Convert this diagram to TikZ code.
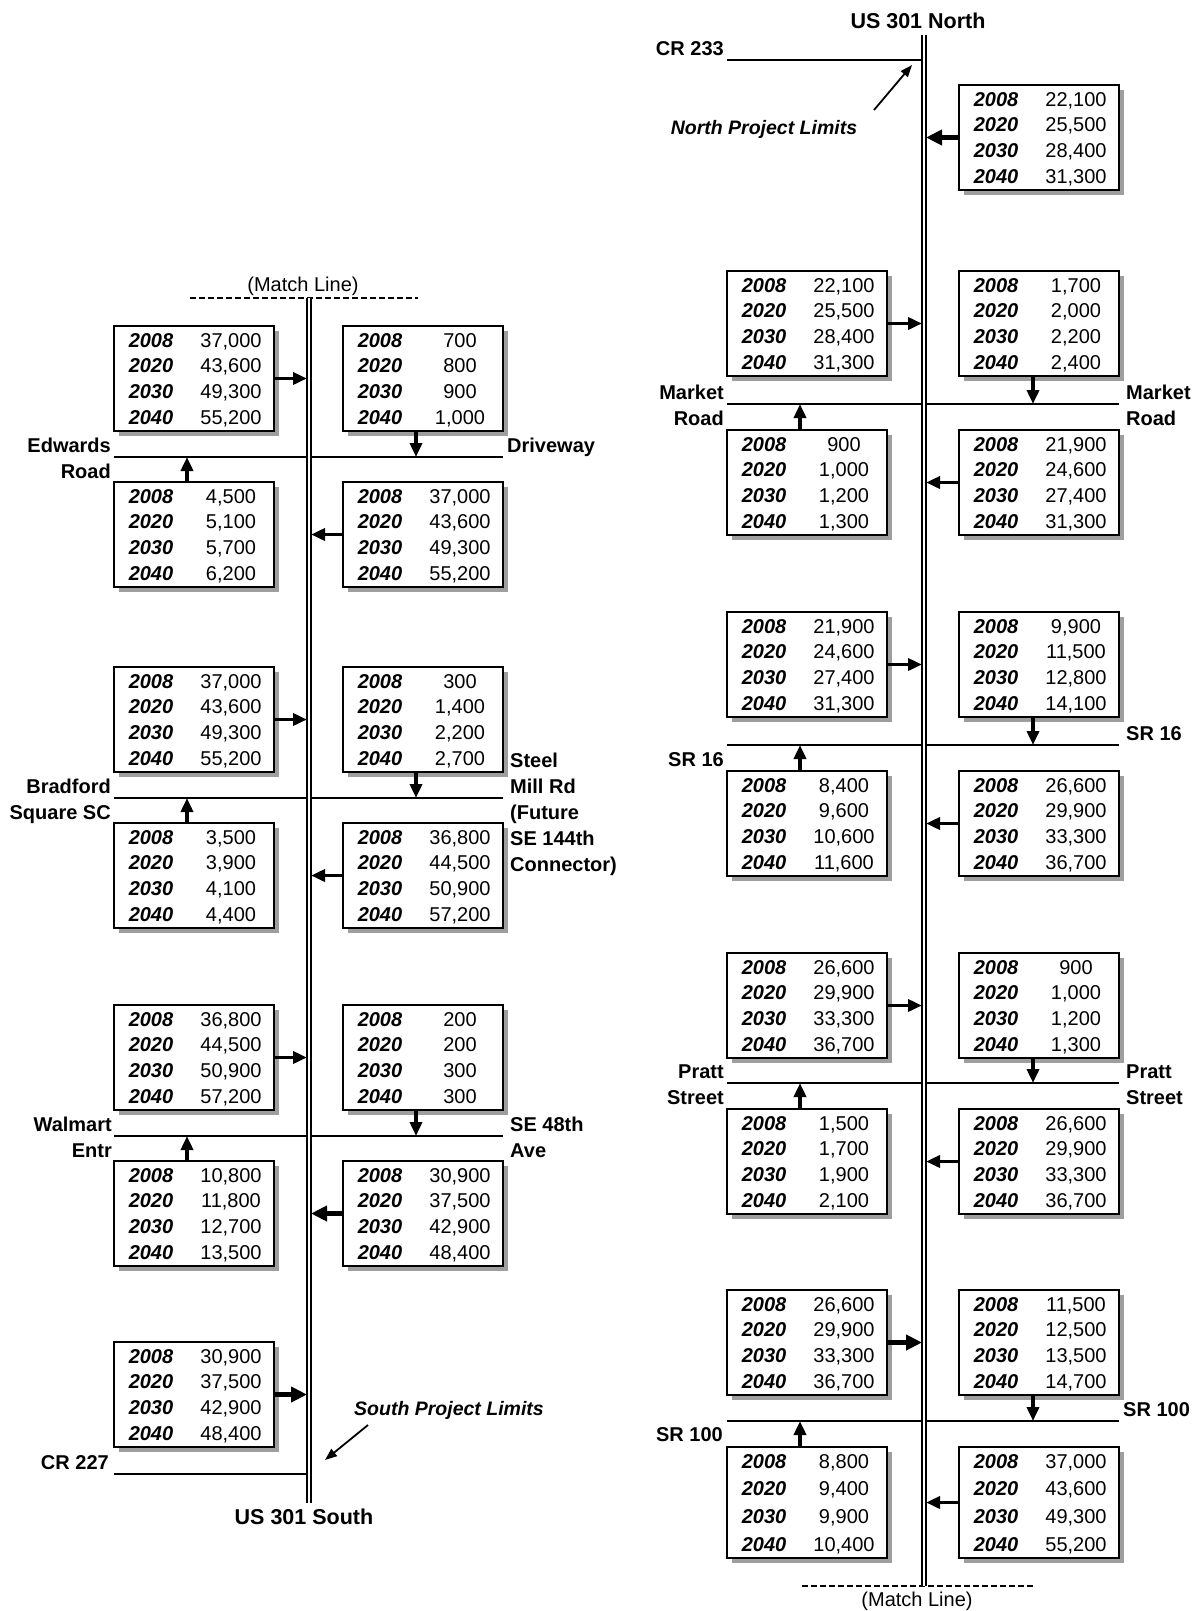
\documentclass[tikz,border=0pt]{standalone}
\usepackage{fontspec}
\setmainfont{Liberation Sans}
\usetikzlibrary{arrows.meta}
\tikzset{
  databox/.style={draw=black, line width=1.6pt, fill=white, minimum width=160pt, inner sep=0pt, rectangle},
  boxshadow/.style={fill=black!38},
  yeartext/.style={font=\fontsize{20}{24}\selectfont\bfseries\itshape, inner sep=0pt, text height=14.3pt, text depth=0pt},
  numtext/.style={font=\fontsize{20}{24}\selectfont, inner sep=0pt, text height=14.3pt, text depth=0pt},
  roadlbl/.style={font=\fontsize{20}{24}\selectfont\bfseries, inner sep=0pt, text height=14.3pt, text depth=0pt},
  titlelbl/.style={font=\fontsize{21.5}{26}\selectfont\bfseries, inner sep=0pt, text height=15.4pt, text depth=0pt},
  limitlbl/.style={font=\fontsize{19.5}{24}\selectfont\bfseries\itshape, inner sep=0pt, text height=14pt, text depth=0pt},
  matchlbl/.style={font=\fontsize{20}{24}\selectfont, inner sep=0pt, anchor=base},
  mainroad/.style={draw=black, double=white, double distance=2.6pt, line width=1.5pt},
  crossroad/.style={line width=2.2pt},
  matchline/.style={line width=2pt, dash pattern=on 6pt off 3pt},
  flow/.style={line width=3.5pt, -{Triangle[length=14pt,width=12pt]}},
  bigflow/.style={line width=5.5pt, -{Triangle[length=16pt,width=15pt]}},
  limitarrow/.style={line width=1.8pt, -{Triangle[length=12pt,width=9pt]}},
}
% #1 name, #2 left x, #3 top y, #4 height, #5-#8 values
\newcommand\tbox[8]{%
  \fill[boxshadow] ({#2+5},{#3+5}) rectangle ({#2+165},{#3+#4+5});
  \node[databox, minimum height=#4pt] (#1) at ({#2+80},{#3+#4/2}) {};
  \node[yeartext] (#1-y1) at ({#2+37},{#3+14}) {2008};
  \node[numtext]  (#1-n1) at ({#2+117},{#3+14}) {#5};
  \node[yeartext] (#1-y2) at ({#2+37},{#3+14+(#4-28)/3}) {2020};
  \node[numtext]  (#1-n2) at ({#2+117},{#3+14+(#4-28)/3}) {#6};
  \node[yeartext] (#1-y3) at ({#2+37},{#3+14+2*(#4-28)/3}) {2030};
  \node[numtext]  (#1-n3) at ({#2+117},{#3+14+2*(#4-28)/3}) {#7};
  \node[yeartext] (#1-y4) at ({#2+37},{#3+#4-14}) {2040};
  \node[numtext]  (#1-n4) at ({#2+117},{#3+#4-14}) {#8};
}
\begin{document}
\begin{tikzpicture}[x=1pt,y=-1pt]
\useasboundingbox (0,0) rectangle (1198,1611);

% ================= LEFT COLUMN (south half) =================
\coordinate (LW) at (307,0);
\coordinate (LE) at (311,0);
\coordinate (LroadTop) at (309,298);
\coordinate (LroadBot) at (309,1503);
\coordinate (mlA) at (190,298);
\coordinate (mlB) at (418,298);
\draw[matchline] (mlA) -- (mlB);
\node[matchlbl] (matchTop) at (303,291) {(Match Line)};

% cross roads
\coordinate (aRw) at (114,457); \coordinate (aRe) at (503,457);
\coordinate (bRw) at (114,798); \coordinate (bRe) at (503,798);
\coordinate (cRw) at (114,1136); \coordinate (cRe) at (503,1136);
\coordinate (crW) at (114,1474);
\draw[crossroad] (aRw) -- (aRe);
\draw[crossroad] (bRw) -- (bRe);
\draw[crossroad] (cRw) -- (cRe);
\draw[crossroad] (crW) -- (crW -| LW);
\draw[mainroad] (LroadTop) -- (LroadBot);

% group A
\tbox{aUL}{114}{326}{105}{37,000}{43,600}{49,300}{55,200}
\tbox{aUR}{343}{326}{105}{700}{800}{900}{1,000}
\tbox{aLL}{114}{482}{105}{4,500}{5,100}{5,700}{6,200}
\tbox{aLR}{343}{482}{105}{37,000}{43,600}{49,300}{55,200}
\coordinate (aUp) at (187,457); \coordinate (aDn) at (416,457);
\draw[flow] (aUL.east) -- (aUL.east -| LW);
\draw[flow] (aLR.west) -- (aLR.west -| LE);
\draw[flow] (aLL.north -| aUp) -- (aUp);
\draw[flow] (aUR.south -| aDn) -- (aDn);
\node[roadlbl, anchor=east] (lEd1) at (111,445) {Edwards};
\node[roadlbl, anchor=east] (lEd2) at (111,471) {Road};
\node[roadlbl, anchor=west] (lDr) at (507,445) {Driveway};

% group B
\tbox{bUL}{114}{667}{105}{37,000}{43,600}{49,300}{55,200}
\tbox{bUR}{343}{667}{105}{300}{1,400}{2,200}{2,700}
\tbox{bLL}{114}{823}{105}{3,500}{3,900}{4,100}{4,400}
\tbox{bLR}{343}{823}{105}{36,800}{44,500}{50,900}{57,200}
\coordinate (bUp) at (187,798); \coordinate (bDn) at (416,798);
\draw[flow] (bUL.east) -- (bUL.east -| LW);
\draw[flow] (bLR.west) -- (bLR.west -| LE);
\draw[flow] (bLL.north -| bUp) -- (bUp);
\draw[flow] (bUR.south -| bDn) -- (bDn);
\node[roadlbl, anchor=east] (lBr1) at (111,786) {Bradford};
\node[roadlbl, anchor=east] (lBr2) at (111,812) {Square SC};
\node[roadlbl, anchor=west] (lSt1) at (510,760) {Steel};
\node[roadlbl, anchor=west] (lSt2) at (510,786) {Mill Rd};
\node[roadlbl, anchor=west] (lSt3) at (510,812) {(Future};
\node[roadlbl, anchor=west] (lSt4) at (510,838) {SE 144th};
\node[roadlbl, anchor=west] (lSt5) at (510,864) {Connector)};

% group C
\tbox{cUL}{114}{1005}{105}{36,800}{44,500}{50,900}{57,200}
\tbox{cUR}{343}{1005}{105}{200}{200}{300}{300}
\tbox{cLL}{114}{1161}{105}{10,800}{11,800}{12,700}{13,500}
\tbox{cLR}{343}{1161}{105}{30,900}{37,500}{42,900}{48,400}
\coordinate (cUp) at (187,1136); \coordinate (cDn) at (416,1136);
\draw[flow] (cUL.east) -- (cUL.east -| LW);
\draw[bigflow] (cLR.west) -- (cLR.west -| LE);
\draw[flow] (cLL.north -| cUp) -- (cUp);
\draw[flow] (cUR.south -| cDn) -- (cDn);
\node[roadlbl, anchor=east] (lWa1) at (112,1124) {Walmart};
\node[roadlbl, anchor=east] (lWa2) at (112,1150) {Entr};
\node[roadlbl, anchor=west] (lSe1) at (510,1124) {SE 48th};
\node[roadlbl, anchor=west] (lSe2) at (510,1150) {Ave};

% group D
\tbox{dUL}{114}{1342}{105}{30,900}{37,500}{42,900}{48,400}
\draw[bigflow] (dUL.east) -- (dUL.east -| LW);
\node[roadlbl, anchor=east] (lCR227) at (109,1462) {CR 227};
\node[limitlbl] (spl) at (449,1408) {South Project Limits};
\coordinate (splS) at (368,1425); \coordinate (splE) at (325,1460);
\draw[limitarrow] (splS) -- (splE);
\node[titlelbl] (us301s) at (304,1517) {US 301 South};

% ================= RIGHT COLUMN (north half) =================
\coordinate (RW) at (922,0);
\coordinate (RE) at (926,0);
\coordinate (RroadTop) at (924,35);
\coordinate (RroadBot) at (924,1586);
\node[titlelbl] (us301n) at (918,21) {US 301 North};

\coordinate (cr233W) at (727,60);
\coordinate (mRw) at (727,404);  \coordinate (mRe) at (1119,404);
\coordinate (sRw) at (727,745);  \coordinate (sRe) at (1119,745);
\coordinate (pRw) at (727,1083); \coordinate (pRe) at (1119,1083);
\coordinate (qRw) at (727,1421); \coordinate (qRe) at (1119,1421);
\draw[crossroad] (cr233W) -- (cr233W -| RW);
\draw[crossroad] (mRw) -- (mRe);
\draw[crossroad] (sRw) -- (sRe);
\draw[crossroad] (pRw) -- (pRe);
\draw[crossroad] (qRw) -- (qRe);
\coordinate (mlC) at (802,1586);
\coordinate (mlD) at (1033,1586);
\draw[matchline] (mlC) -- (mlD);
\draw[mainroad] (RroadTop) -- (RroadBot);
\node[matchlbl] (matchBot) at (917,1606) {(Match Line)};

\node[roadlbl, anchor=east] (lCR233) at (724,48) {CR 233};
\node[limitlbl] (npl) at (764,127) {North Project Limits};
\coordinate (nplS) at (874,110); \coordinate (nplE) at (912,65);
\draw[limitarrow] (nplS) -- (nplE);

% top box
\tbox{tUR}{959}{85}{105}{22,100}{25,500}{28,400}{31,300}
\draw[bigflow] (tUR.west) -- (tUR.west -| RE);

% Market Road
\tbox{mUL}{727}{271}{105}{22,100}{25,500}{28,400}{31,300}
\tbox{mUR}{959}{271}{105}{1,700}{2,000}{2,200}{2,400}
\tbox{mLL}{727}{430}{105}{900}{1,000}{1,200}{1,300}
\tbox{mLR}{959}{430}{105}{21,900}{24,600}{27,400}{31,300}
\coordinate (mUp) at (800,404); \coordinate (mDn) at (1033,404);
\draw[flow] (mUL.east) -- (mUL.east -| RW);
\draw[flow] (mLR.west) -- (mLR.west -| RE);
\draw[flow] (mLL.north -| mUp) -- (mUp);
\draw[flow] (mUR.south -| mDn) -- (mDn);
\node[roadlbl, anchor=east] (lMk1) at (724,392) {Market};
\node[roadlbl, anchor=east] (lMk2) at (724,418) {Road};
\node[roadlbl, anchor=west] (lMk3) at (1126,392) {Market};
\node[roadlbl, anchor=west] (lMk4) at (1126,418) {Road};

% SR 16
\tbox{sUL}{727}{612}{105}{21,900}{24,600}{27,400}{31,300}
\tbox{sUR}{959}{612}{105}{9,900}{11,500}{12,800}{14,100}
\tbox{sLL}{727}{771}{105}{8,400}{9,600}{10,600}{11,600}
\tbox{sLR}{959}{771}{105}{26,600}{29,900}{33,300}{36,700}
\coordinate (sUp) at (800,745); \coordinate (sDn) at (1033,745);
\draw[flow] (sUL.east) -- (sUL.east -| RW);
\draw[flow] (sLR.west) -- (sLR.west -| RE);
\draw[flow] (sLL.north -| sUp) -- (sUp);
\draw[flow] (sUR.south -| sDn) -- (sDn);
\node[roadlbl, anchor=west] (lSr1) at (1126,733) {SR 16};
\node[roadlbl, anchor=east] (lSr2) at (724,759) {SR 16};

% Pratt Street
\tbox{pUL}{727}{953}{105}{26,600}{29,900}{33,300}{36,700}
\tbox{pUR}{959}{953}{105}{900}{1,000}{1,200}{1,300}
\tbox{pLL}{727}{1109}{105}{1,500}{1,700}{1,900}{2,100}
\tbox{pLR}{959}{1109}{105}{26,600}{29,900}{33,300}{36,700}
\coordinate (pUp) at (800,1083); \coordinate (pDn) at (1033,1083);
\draw[flow] (pUL.east) -- (pUL.east -| RW);
\draw[flow] (pLR.west) -- (pLR.west -| RE);
\draw[flow] (pLL.north -| pUp) -- (pUp);
\draw[flow] (pUR.south -| pDn) -- (pDn);
\node[roadlbl, anchor=east] (lPr1) at (724,1071) {Pratt};
\node[roadlbl, anchor=east] (lPr2) at (724,1097) {Street};
\node[roadlbl, anchor=west] (lPr3) at (1126,1071) {Pratt};
\node[roadlbl, anchor=west] (lPr4) at (1126,1097) {Street};

% SR 100
\tbox{qUL}{727}{1290}{105}{26,600}{29,900}{33,300}{36,700}
\tbox{qUR}{959}{1290}{105}{11,500}{12,500}{13,500}{14,700}
\tbox{qLL}{727}{1447}{111}{8,800}{9,400}{9,900}{10,400}
\tbox{qLR}{959}{1447}{111}{37,000}{43,600}{49,300}{55,200}
\coordinate (qUp) at (800,1421); \coordinate (qDn) at (1033,1421);
\draw[bigflow] (qUL.east) -- (qUL.east -| RW);
\draw[flow] (qLR.west) -- (qLR.west -| RE);
\draw[flow] (qLL.north -| qUp) -- (qUp);
\draw[flow] (qUR.south -| qDn) -- (qDn);
\node[roadlbl, anchor=west] (lSq1) at (1123,1409) {SR 100};
\node[roadlbl, anchor=east] (lSq2) at (723,1434) {SR 100};
\end{tikzpicture}
\end{document}
